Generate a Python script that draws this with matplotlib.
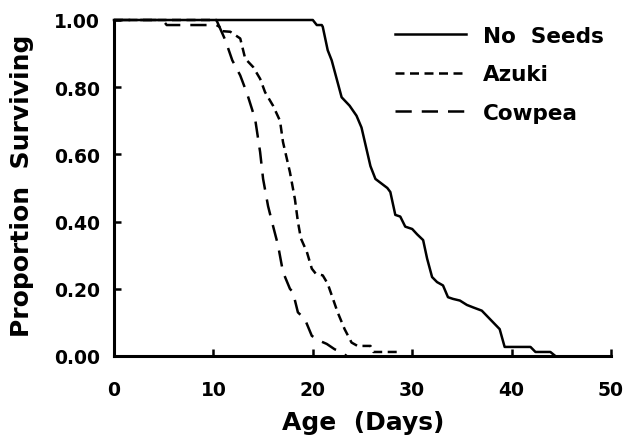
import matplotlib
matplotlib.use("Agg")
import matplotlib.pyplot as plt

# ---- data ----
no_seeds_x = [0, 20.0, 20.4, 20.9, 21.0, 21.5, 21.9, 22.9, 23.7, 24.4, 24.9, 25.8,
              26.3, 27.5, 27.8, 28.3, 28.8, 29.3, 30.0, 30.5, 31.1, 31.5, 32.0,
              32.5, 33.1, 33.6, 34.1, 34.8, 35.5, 36.1, 37.0, 38.8, 39.3, 41.9,
              42.4, 43.9, 44.4]
no_seeds_y = [1.0, 1.0, 0.985, 0.985, 0.98, 0.91, 0.88, 0.77, 0.745, 0.715, 0.68,
              0.565, 0.527, 0.50, 0.488, 0.42, 0.415, 0.385, 0.378, 0.362, 0.345,
              0.29, 0.235, 0.22, 0.21, 0.175, 0.17, 0.165, 0.152, 0.145, 0.135,
              0.08, 0.027, 0.027, 0.012, 0.012, 0.0]

azuki_x = [0, 10.3, 10.8, 11.7, 12.7, 13.2, 14.0, 14.7, 15.2, 16.0, 16.7, 17.0,
           17.7, 18.2, 18.5, 18.8, 19.4, 19.9, 20.3, 21.0, 21.5, 22.5, 23.2,
           23.9, 24.5, 25.8, 26.1, 28.5, 28.8]
azuki_y = [1.0, 1.0, 0.967, 0.965, 0.945, 0.885, 0.86, 0.825, 0.785, 0.745, 0.70,
           0.637, 0.547, 0.467, 0.40, 0.35, 0.31, 0.26, 0.245, 0.24, 0.215, 0.13,
           0.08, 0.04, 0.03, 0.03, 0.012, 0.012, 0.0]

cowpea_x = [0, 4.9, 5.3, 10.3, 10.6, 11.2, 11.9, 12.7, 13.4, 14.2, 14.7, 15.0,
            15.5, 16.0, 16.5, 17.0, 17.7, 18.0, 18.5, 19.2, 19.9, 20.7, 21.4,
            22.2, 22.9, 23.4]
cowpea_y = [1.0, 1.0, 0.985, 0.985, 0.98, 0.94, 0.88, 0.835, 0.78, 0.705, 0.607,
            0.527, 0.446, 0.387, 0.33, 0.25, 0.20, 0.19, 0.13, 0.11, 0.06, 0.045,
            0.036, 0.02, 0.012, 0.0]

series_labels = ["No  Seeds", "Azuki", "Cowpea"]
x_ticks = [0, 10, 20, 30, 40, 50]
y_ticks = [0.0, 0.2, 0.4, 0.6, 0.8, 1.0]

plt.rcParams['font.family'] = ['DejaVu Sans']
plt.rcParams['font.weight'] = 'bold'

fig = plt.figure(figsize=(6.26, 4.39), dpi=100)
ax = fig.add_axes([114/626, 1 - 357/439, 497/626, 336/439])

lw = 1.8
ax.plot(no_seeds_x, no_seeds_y, color='black', lw=lw, solid_joinstyle='round',
        label=series_labels[0], clip_on=False)
ax.plot(azuki_x, azuki_y, color='black', lw=lw, dashes=(3.6, 2.2),
        label=series_labels[1], clip_on=False)
ax.plot(cowpea_x, cowpea_y, color='black', lw=lw, dashes=(6.5, 4.0),
        label=series_labels[2], clip_on=False)

ax.set_xlim(0, 50)
ax.set_ylim(0, 1.0)
ax.set_xticks(x_ticks)
ax.set_yticks(y_ticks)
ax.set_xticklabels([str(t) for t in x_ticks])
ax.set_yticklabels([f"{t:.2f}" for t in y_ticks])

for s in ['top', 'right']:
    ax.spines[s].set_visible(False)
for s in ['left', 'bottom']:
    ax.spines[s].set_linewidth(2.2)
    ax.spines[s].set_capstyle('projecting')

ax.tick_params(axis='both', direction='in', length=5, width=1.8,
               labelsize=13.5)
ax.tick_params(axis='x', pad=17)
ax.tick_params(axis='y', pad=10)
for lab in ax.get_xticklabels() + ax.get_yticklabels():
    lab.set_fontweight('bold')

fig.text(22/626, 1 - 186/439, "Proportion  Surviving", rotation=90,
         ha='center', va='center', fontsize=18, fontweight='bold')
fig.text(363/626, 1 - 423/439, "Age  (Days)", ha='center', va='center',
         fontsize=18, fontweight='bold')

leg = ax.legend(loc='upper left', bbox_to_anchor=((395-114)/497, 1.0 - (27-21)/336),
                frameon=False, fontsize=15.5, handlelength=3.3,
                handletextpad=0.8, labelspacing=0.85, borderpad=0,
                borderaxespad=0)
for t in leg.get_texts():
    t.set_fontweight('bold')

fig.savefig("out.png", dpi=100)
